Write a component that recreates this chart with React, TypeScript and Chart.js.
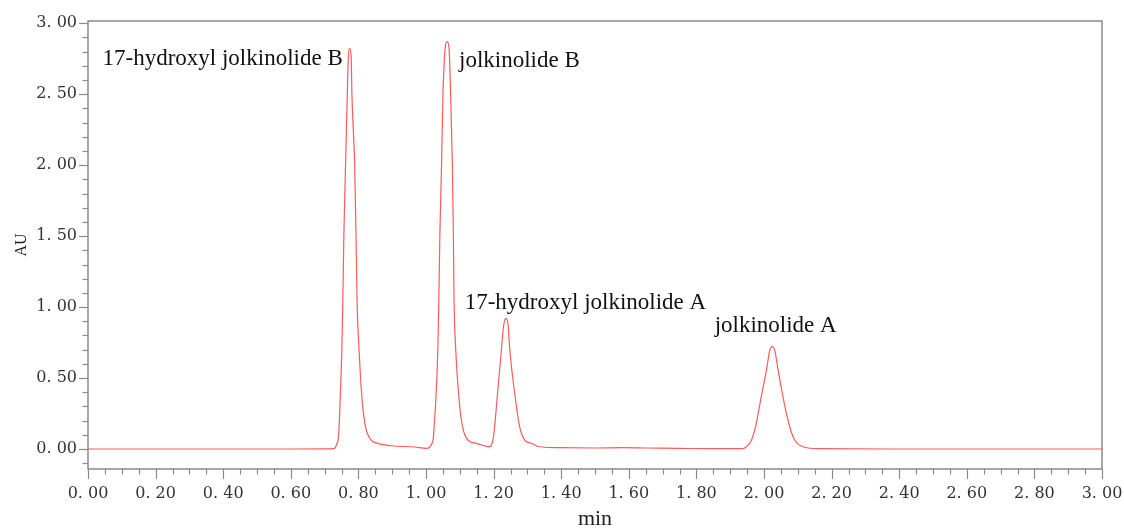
import React, { useEffect, useRef } from "react";
import { Chart, registerables } from "chart.js";

Chart.register(...registerables);

// Chromatogram trace (min, AU)
const retentionTime = [
  0.0, 0.3, 0.6, 0.72, 0.73, 0.737, 0.74, 0.743, 0.746, 0.751, 0.754, 0.757, 0.762, 0.767, 0.7705, 0.774,
  0.7785, 0.781, 0.789, 0.793, 0.796, 0.802, 0.811, 0.821, 0.838, 0.858, 0.898, 0.966, 1.001, 1.011,
  1.018, 1.021, 1.024, 1.029, 1.035, 1.038, 1.041, 1.046, 1.05, 1.057, 1.062, 1.068, 1.073, 1.078, 1.081,
  1.083, 1.088, 1.098, 1.108, 1.124, 1.149, 1.188, 1.198, 1.203, 1.21, 1.223, 1.23, 1.236, 1.243, 1.248,
  1.265, 1.277, 1.292, 1.312, 1.336, 1.4, 1.5, 1.58, 1.65, 1.75, 1.85, 1.938, 1.948, 1.963,
  1.975, 1.99, 2.009, 2.016, 2.024, 2.033, 2.04, 2.058, 2.076, 2.091, 2.115, 2.165, 2.4, 2.7, 3.0,
];
const absorbance = [
  0.0, 0.0, 0.0, 0.001, 0.005, 0.04, 0.063, 0.157, 0.345, 0.698, 1.05, 1.508, 2.001, 2.483, 2.77, 2.824,
  2.77, 2.483, 2.001, 1.508, 1.05, 0.698, 0.345, 0.157, 0.063, 0.04, 0.023, 0.014, 0.004, 0.012,
  0.04, 0.063, 0.157, 0.345, 0.698, 1.05, 1.508, 2.001, 2.483, 2.83, 2.87, 2.83, 2.483, 2.001, 1.508,
  1.05, 0.698, 0.345, 0.157, 0.063, 0.04, 0.016, 0.063, 0.157, 0.345, 0.698, 0.874, 0.921, 0.874, 0.698,
  0.345, 0.157, 0.063, 0.04, 0.016, 0.009, 0.007, 0.009, 0.007, 0.004, 0.002, 0.002, 0.016, 0.063,
  0.157, 0.345, 0.58, 0.684, 0.721, 0.684, 0.58, 0.345, 0.157, 0.063, 0.016, 0.002, 0.0, 0.0, 0.0,
];

const xTickValues = [0, 0.2, 0.4, 0.6, 0.8, 1.0, 1.2, 1.4, 1.6, 1.8, 2.0, 2.2, 2.4, 2.6, 2.8, 3.0];
const xTickLabels = [
  "0. 00", "0. 20", "0. 40", "0. 60", "0. 80", "1. 00", "1. 20", "1. 40",
  "1. 60", "1. 80", "2. 00", "2. 20", "2. 40", "2. 60", "2. 80", "3. 00",
];
const yTickValues = [0, 0.5, 1.0, 1.5, 2.0, 2.5, 3.0];
const yTickLabels = ["0. 00", "0. 50", "1. 00", "1. 50", "2. 00", "2. 50", "3. 00"];

const peakNames = ["17-hydroxyl jolkinolide B", "jolkinolide B", "17-hydroxyl jolkinolide A", "jolkinolide A"];
const peakLabelTime = [0.7536, 1.0976, 1.1145, 1.854];
const peakLabelAU = [2.706, 2.694, 0.987, 0.827];
const peakLabelAlign = ["right", "left", "left", "left"];

const xTitle = "min";
const yTitle = "AU";

const AXIS_COLOR = "#8a8a8a";
const TEXT_FONT = "'Liberation Serif', 'Times New Roman', serif";
const TICK_FONT = "'DejaVu Serif', serif";

const framePlugin = {
  id: "frameAndDecor",
  afterDraw(chart: any) {
    const { ctx, chartArea: a, scales } = chart;
    const xs = scales.x;
    const ys = scales.y;
    ctx.save();
    ctx.strokeStyle = AXIS_COLOR;
    ctx.lineWidth = 1.5;
    ctx.strokeRect(a.left, a.top, a.right - a.left, a.bottom - a.top);

    ctx.lineWidth = 1.2;
    for (let i = 0; i <= 60; i++) {
      const v = i * 0.05;
      const px = Math.round(xs.getPixelForValue(v)) + 0.5;
      const major = i % 4 === 0;
      ctx.beginPath();
      ctx.moveTo(px, a.bottom);
      ctx.lineTo(px, a.bottom + (major ? 10 : 5.5));
      ctx.stroke();
    }
    for (let i = -1; i <= 30; i++) {
      const v = i * 0.1;
      const py = Math.round(ys.getPixelForValue(v)) + 0.5;
      const major = i % 5 === 0;
      ctx.beginPath();
      ctx.moveTo(a.left, py);
      ctx.lineTo(a.left - (major ? 9 : 5.5), py);
      ctx.stroke();
    }

    ctx.fillStyle = "#111";
    ctx.font = `23px ${TEXT_FONT}`;
    ctx.textBaseline = "alphabetic";
    peakNames.forEach((name, i) => {
      ctx.textAlign = peakLabelAlign[i] as CanvasTextAlign;
      ctx.fillText(name, xs.getPixelForValue(peakLabelTime[i]), ys.getPixelForValue(peakLabelAU[i]));
    });

    ctx.fillStyle = "#222";
    ctx.textAlign = "center";
    ctx.textBaseline = "middle";
    ctx.font = `22px ${TEXT_FONT}`;
    ctx.fillText(xTitle, (a.left + a.right) / 2, 519);
    ctx.save();
    ctx.translate(22, (a.top + a.bottom) / 2);
    ctx.rotate(-Math.PI / 2);
    ctx.font = `16px ${TEXT_FONT}`;
    ctx.fillText(yTitle, 0, 0);
    ctx.restore();
    ctx.restore();
  },
};

export default function App() {
  const canvasRef = useRef<HTMLCanvasElement | null>(null);

  useEffect(() => {
    if (!canvasRef.current) return;
    const points = retentionTime.map((t, i) => ({ x: t, y: absorbance[i] }));
    const chart = new Chart(canvasRef.current, {
      type: "line",
      data: {
        datasets: [
          {
            data: points,
            borderColor: "rgb(255, 90, 90)",
            borderWidth: 1.2,
            pointRadius: 0,
            fill: false,
            cubicInterpolationMode: "monotone",
          },
        ],
      },
      options: {
        animation: false,
        responsive: false,
        devicePixelRatio: 1,
        layout: { padding: { top: 21, right: 22, left: 0, bottom: 0 } },
        plugins: { legend: { display: false }, tooltip: { enabled: false } },
        scales: {
          x: {
            type: "linear",
            min: 0,
            max: 3,
            afterFit: (s: any) => {
              s.height = 60;
              s.paddingLeft = 0;
              s.paddingRight = 0;
            },
            afterBuildTicks: (s: any) => {
              s.ticks = xTickValues.map((v) => ({ value: v }));
            },
            grid: { display: true, drawOnChartArea: false, drawTicks: false },
            border: { display: false },
            ticks: {
              autoSkip: false,
              maxRotation: 0,
              padding: 15,
              color: "#333",
              font: { family: TICK_FONT, size: 16 },
              callback: (_v: any, i: number) => xTickLabels[i],
            },
          },
          y: {
            type: "linear",
            min: -0.141,
            max: 3.016,
            afterFit: (s: any) => {
              s.width = 88;
              s.paddingTop = 0;
              s.paddingBottom = 0;
            },
            afterBuildTicks: (s: any) => {
              s.ticks = yTickValues.map((v) => ({ value: v }));
            },
            grid: { display: true, drawOnChartArea: false, drawTicks: false },
            border: { display: false },
            ticks: {
              autoSkip: false,
              padding: 11,
              color: "#333",
              font: { family: TICK_FONT, size: 16 },
              callback: (_v: any, i: number) => yTickLabels[i],
            },
          },
        },
      },
      plugins: [framePlugin],
    });
    return () => chart.destroy();
  }, []);

  return (
    <div style={{ position: "absolute", left: 0, top: 0, width: 1124, height: 529, background: "#fff" }}>
      <canvas ref={canvasRef} width={1124} height={529} style={{ display: "block" }} />
    </div>
  );
}
